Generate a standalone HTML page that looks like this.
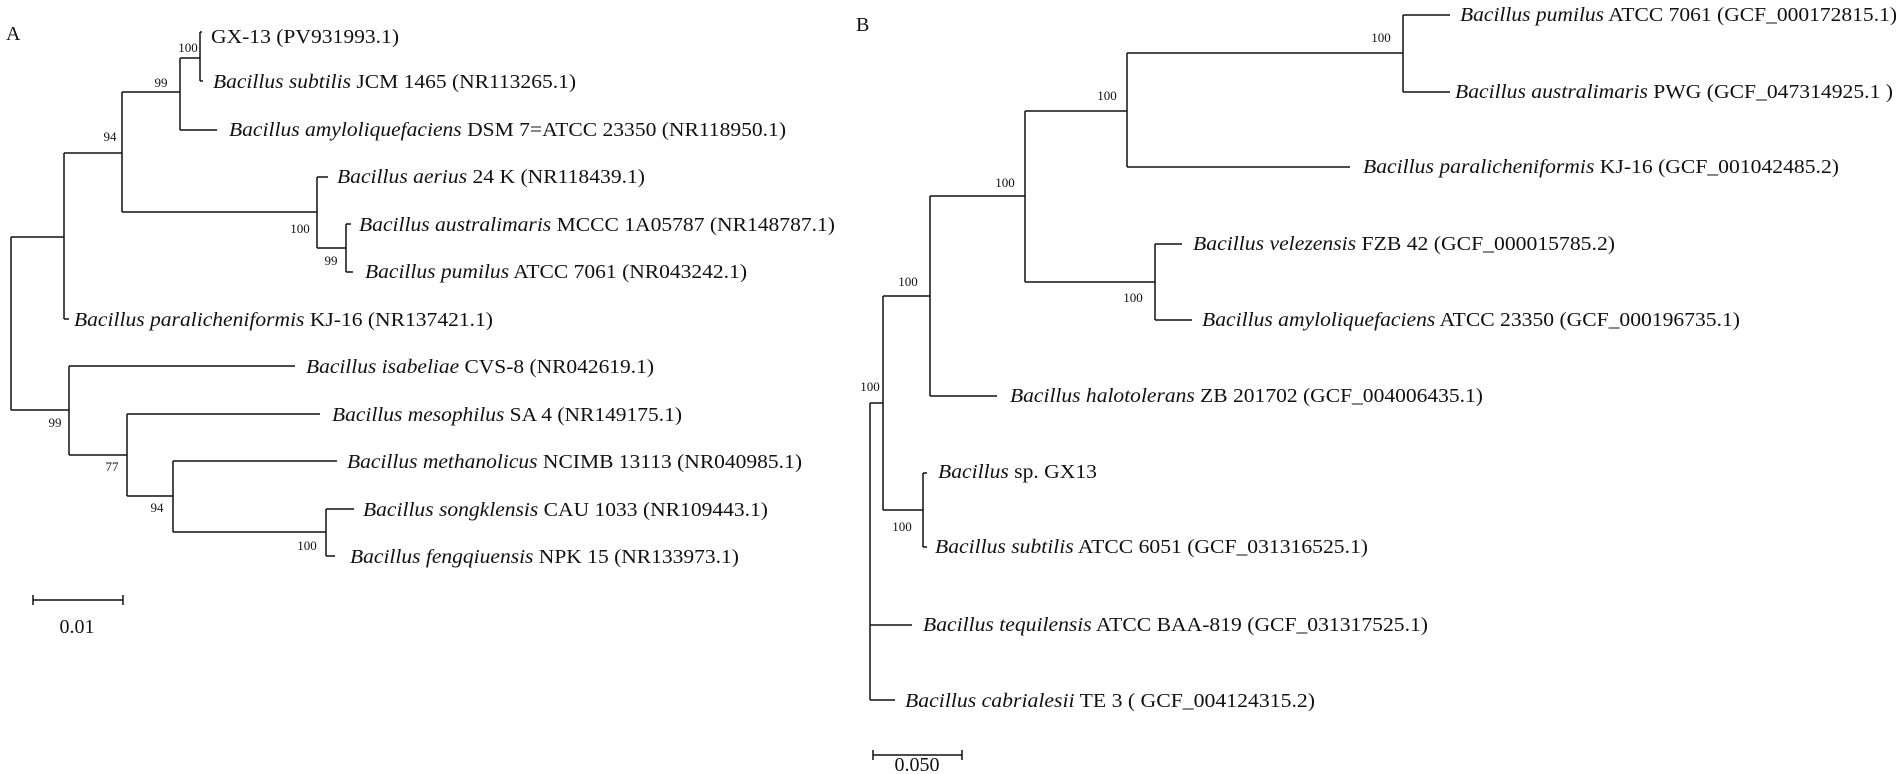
<!DOCTYPE html>
<html><head><meta charset="utf-8"><style>
html,body{margin:0;padding:0;background:#fff;}
svg{display:block;}
text{font-family:"Liberation Serif",serif;fill:#111;}
.t{font-size:20px;}
.b{font-size:13px;}
</style></head><body>
<svg width="1902" height="774" viewBox="0 0 1902 774" xmlns="http://www.w3.org/2000/svg">
<g stroke="#111" stroke-width="1.5" fill="none">
<!-- Tree A -->
<path d="M11,237V410M11,237H64M11,410H69"/>
<path d="M64,153V319M64,153H122M64,319H69"/>
<path d="M122,92V212M122,92H180M122,212H317"/>
<path d="M180,58V130M180,58H200M180,130H217"/>
<path d="M200,32V81M200,32H202M200,81H203"/>
<path d="M317,177V248M317,177H328M317,248H346"/>
<path d="M346,224V272M346,224H351M346,272H353"/>
<path d="M69,366V455M69,366H295M69,455H127"/>
<path d="M127,414V496M127,414H320M127,496H173"/>
<path d="M173,461V532M173,461H337M173,532H326"/>
<path d="M326,509V556M326,509H354M326,556H335"/>
<path d="M33,600H123M33,595V605M123,595V605"/>
<!-- Tree B -->
<path d="M870,403V700M870,403H883M870,625H912M870,700H895"/>
<path d="M883,296V510M883,296H930M883,510H923"/>
<path d="M923,473V547M923,473H927M923,547H927"/>
<path d="M930,196V396M930,196H1025M930,396H997"/>
<path d="M1025,111V282M1025,111H1127M1025,282H1155"/>
<path d="M1127,53V167M1127,53H1403M1127,167H1350"/>
<path d="M1403,15V92M1403,15H1450M1403,92H1450"/>
<path d="M1155,244V320M1155,244H1182M1155,320H1192"/>
<path d="M873,755H962M873,750V760M962,750V760"/>
</g>
<!-- A labels -->
<text class="t" x="6" y="40">A</text>
<text class="t" x="211" y="43" textLength="188" lengthAdjust="spacingAndGlyphs">GX-13 (PV931993.1)</text>
<text class="t" x="213" y="88" textLength="363" lengthAdjust="spacingAndGlyphs"><tspan font-style="italic">Bacillus subtilis</tspan> JCM 1465 (NR113265.1)</text>
<text class="t" x="229" y="136" textLength="557" lengthAdjust="spacingAndGlyphs"><tspan font-style="italic">Bacillus amyloliquefaciens</tspan> DSM 7=ATCC 23350 (NR118950.1)</text>
<text class="t" x="337" y="183" textLength="308" lengthAdjust="spacingAndGlyphs"><tspan font-style="italic">Bacillus aerius</tspan> 24 K (NR118439.1)</text>
<text class="t" x="359" y="231" textLength="476" lengthAdjust="spacingAndGlyphs"><tspan font-style="italic">Bacillus australimaris</tspan> MCCC 1A05787 (NR148787.1)</text>
<text class="t" x="365" y="278" textLength="382" lengthAdjust="spacingAndGlyphs"><tspan font-style="italic">Bacillus pumilus</tspan> ATCC 7061 (NR043242.1)</text>
<text class="t" x="74" y="326" textLength="419" lengthAdjust="spacingAndGlyphs"><tspan font-style="italic">Bacillus paralicheniformis</tspan> KJ-16 (NR137421.1)</text>
<text class="t" x="306" y="373" textLength="348" lengthAdjust="spacingAndGlyphs"><tspan font-style="italic">Bacillus isabeliae</tspan> CVS-8 (NR042619.1)</text>
<text class="t" x="332" y="421" textLength="350" lengthAdjust="spacingAndGlyphs"><tspan font-style="italic">Bacillus mesophilus</tspan> SA 4 (NR149175.1)</text>
<text class="t" x="347" y="468" textLength="455" lengthAdjust="spacingAndGlyphs"><tspan font-style="italic">Bacillus methanolicus</tspan> NCIMB 13113 (NR040985.1)</text>
<text class="t" x="363" y="516" textLength="405" lengthAdjust="spacingAndGlyphs"><tspan font-style="italic">Bacillus songklensis</tspan> CAU 1033 (NR109443.1)</text>
<text class="t" x="350" y="563" textLength="389" lengthAdjust="spacingAndGlyphs"><tspan font-style="italic">Bacillus fengqiuensis</tspan> NPK 15 (NR133973.1)</text>
<text class="b" x="188" y="52" text-anchor="middle">100</text>
<text class="b" x="161" y="87" text-anchor="middle">99</text>
<text class="b" x="110" y="141" text-anchor="middle">94</text>
<text class="b" x="300" y="233" text-anchor="middle">100</text>
<text class="b" x="331" y="265" text-anchor="middle">99</text>
<text class="b" x="55" y="427" text-anchor="middle">99</text>
<text class="b" x="112" y="471" text-anchor="middle">77</text>
<text class="b" x="157" y="512" text-anchor="middle">94</text>
<text class="b" x="307" y="550" text-anchor="middle">100</text>
<text class="t" x="77" y="633" text-anchor="middle" font-size="19">0.01</text>
<!-- B labels -->
<text class="t" x="856" y="31">B</text>
<text class="t" x="1460" y="21" textLength="437" lengthAdjust="spacingAndGlyphs"><tspan font-style="italic">Bacillus pumilus</tspan> ATCC 7061 (GCF_000172815.1)</text>
<text class="t" x="1455" y="98" textLength="438" lengthAdjust="spacingAndGlyphs"><tspan font-style="italic">Bacillus australimaris</tspan> PWG (GCF_047314925.1 )</text>
<text class="t" x="1363" y="173" textLength="476" lengthAdjust="spacingAndGlyphs"><tspan font-style="italic">Bacillus paralicheniformis</tspan> KJ-16 (GCF_001042485.2)</text>
<text class="t" x="1193" y="250" textLength="422" lengthAdjust="spacingAndGlyphs"><tspan font-style="italic">Bacillus velezensis</tspan> FZB 42 (GCF_000015785.2)</text>
<text class="t" x="1202" y="326" textLength="538" lengthAdjust="spacingAndGlyphs"><tspan font-style="italic">Bacillus amyloliquefaciens</tspan> ATCC 23350 (GCF_000196735.1)</text>
<text class="t" x="1010" y="402" textLength="473" lengthAdjust="spacingAndGlyphs"><tspan font-style="italic">Bacillus halotolerans</tspan> ZB 201702 (GCF_004006435.1)</text>
<text class="t" x="938" y="478" textLength="159" lengthAdjust="spacingAndGlyphs"><tspan font-style="italic">Bacillus</tspan> sp. GX13</text>
<text class="t" x="935" y="553" textLength="433" lengthAdjust="spacingAndGlyphs"><tspan font-style="italic">Bacillus subtilis</tspan> ATCC 6051 (GCF_031316525.1)</text>
<text class="t" x="923" y="631" textLength="505" lengthAdjust="spacingAndGlyphs"><tspan font-style="italic">Bacillus tequilensis</tspan> ATCC BAA-819 (GCF_031317525.1)</text>
<text class="t" x="905" y="707" textLength="410" lengthAdjust="spacingAndGlyphs"><tspan font-style="italic">Bacillus cabrialesii</tspan> TE 3 ( GCF_004124315.2)</text>
<text class="b" x="1381" y="42" text-anchor="middle">100</text>
<text class="b" x="1107" y="100" text-anchor="middle">100</text>
<text class="b" x="1005" y="187" text-anchor="middle">100</text>
<text class="b" x="908" y="286" text-anchor="middle">100</text>
<text class="b" x="1133" y="302" text-anchor="middle">100</text>
<text class="b" x="870" y="391" text-anchor="middle">100</text>
<text class="b" x="902" y="531" text-anchor="middle">100</text>
<text class="t" x="917" y="771" text-anchor="middle" font-size="19">0.050</text>
</svg>
</body></html>
